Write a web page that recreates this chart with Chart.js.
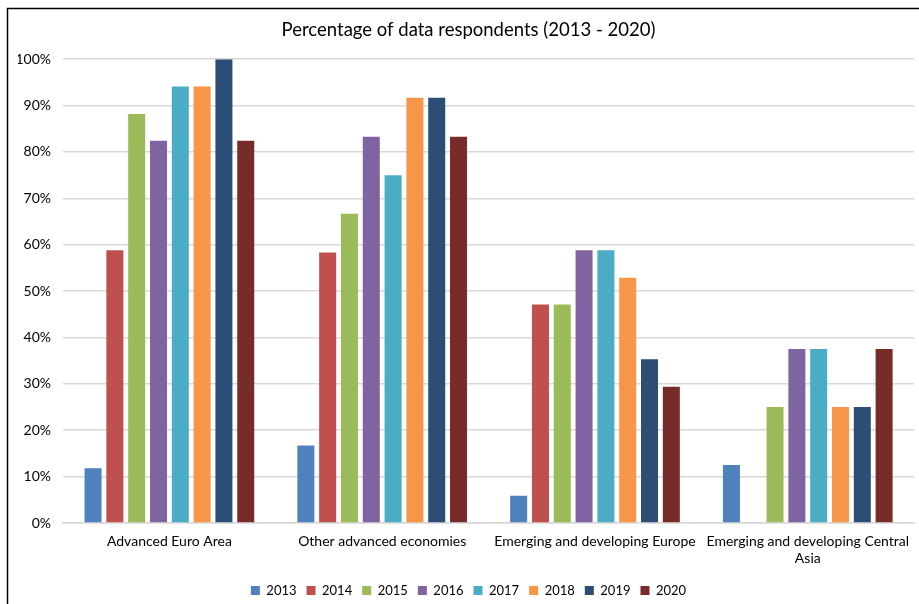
<!DOCTYPE html>
<html>
<head>
<meta charset="utf-8">
<script src="https://cdn.jsdelivr.net/npm/chart.js@4/dist/chart.umd.min.js"></script>
<style>
  html, body { margin: 0; padding: 0; background: #fff; }
  #wrap { width: 919px; height: 604px; position: relative; }
</style>
</head>
<body>
<div id="wrap"><canvas id="chart"></canvas></div>
<script>
var categories=[
  "Advanced Euro Area",
  "Other advanced economies",
  "Emerging and developing Europe",
  ["Emerging and developing Central", "Asia"]
];
var years=["2013","2014","2015","2016","2017","2018","2019","2020"];
var colors=["#4F81BD","#C0504D","#9BBB59","#8064A2","#4BACC6","#F79646","#2C4D75","#772C2A"];
var v2013=[11.8, 16.7, 5.9, 12.5];
var v2014=[58.8, 58.3, 47.1, 0];
var v2015=[88.2, 66.7, 47.1, 25.0];
var v2016=[82.4, 83.3, 58.8, 37.5];
var v2017=[94.1, 75.0, 58.8, 37.5];
var v2018=[94.1, 91.7, 52.9, 25.0];
var v2019=[100, 91.7, 35.3, 25.0];
var v2020=[82.4, 83.3, 29.4, 37.5];
var series=[v2013, v2014, v2015, v2016, v2017, v2018, v2019, v2020];

var FONT="Lato";

// frame around the chart like the spreadsheet export
var framePlugin={
  id: "frame",
  afterDraw: function(chart){
    var ctx=chart.ctx;
    ctx.save();
    ctx.strokeStyle="#000";
    ctx.lineWidth=1.5;
    ctx.beginPath();
    ctx.moveTo(7.5, 604);
    ctx.lineTo(7.5, 8.5);
    ctx.lineTo(919, 8.5);
    ctx.stroke();
    ctx.restore();
  }
};

var datasets=[];
years.forEach(function(y, i){
  datasets.push({
    label: y,
    data: series[i],
    backgroundColor: colors[i],
    borderWidth: 0,
    categoryPercentage: 0.82,
    barPercentage: 0.78
  });
});

new Chart(document.getElementById("chart"), {
  type: "bar",
  data: { labels: categories, datasets: datasets },
  plugins: [framePlugin],
  options: {
    responsive: true,
    maintainAspectRatio: false,
    animation: false,
    layout: { padding: { left: 18, top: 0, right: 0, bottom: -3 } },
    plugins: {
      title: {
        display: true,
        text: "Percentage of data respondents (2013 - 2020)",
        color: "#000",
        font: { family: FONT, size: 18.5, weight: "normal" },
        padding: { top: 19, bottom: 18 }
      },
      legend: {
        position: "bottom",
        labels: {
          color: "#000",
          font: { family: FONT, size: 13 },
          boxWidth: 9,
          boxHeight: 9,
          padding: 10
        }
      },
      tooltip: { enabled: false }
    },
    scales: {
      x: {
        afterFit: function(scale){ scale.height=51; },
        grid: { display: false, drawTicks: false },
        border: { color: "#D9D9D9", width: 1.5 },
        ticks: { color: "#000", font: { family: FONT, size: 14 }, padding: 10, maxRotation: 0, autoSkip: false }
      },
      y: {
        min: 0,
        max: 100,
        afterFit: function(scale){ scale.width=45; },
        grid: { color: "#D9D9D9", lineWidth: 1.5, drawTicks: false },
        border: { display: false },
        ticks: {
          stepSize: 10,
          color: "#000",
          padding: 12,
          font: { family: FONT, size: 14 },
          callback: function(val){ return val+"%"; }
        }
      }
    }
  }
});
</script>
</body>
</html>
